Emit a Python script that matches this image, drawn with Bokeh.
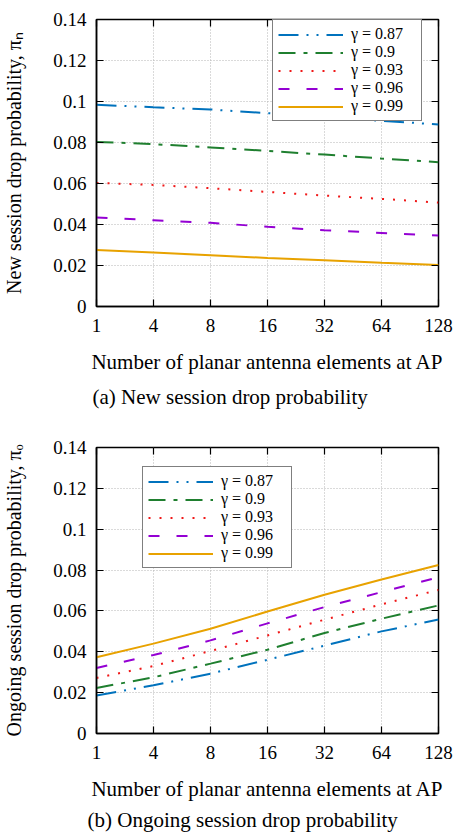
from bokeh.plotting import figure
from bokeh.models import (FixedTicker, LinearAxis, Legend, LegendItem, Title,
                          CustomJSTickFormatter, Range1d, CustomLabelingPolicy)
from bokeh.layouts import column
from bokeh.embed import file_html
from bokeh.resources import INLINE

# ---------------- data ----------------
x_labels = ["1", "4", "8", "16", "32", "64", "128"]
gamma_labels = ["γ = 0.87", "γ = 0.9", "γ = 0.93", "γ = 0.96", "γ = 0.99"]
y_tick_values = [0, 0.02, 0.04, 0.06, 0.08, 0.10, 0.12, 0.14]

new_087 = [0.0984, 0.0972, 0.0961, 0.0943, 0.0925, 0.0906, 0.0888]
new_090 = [0.0803, 0.0792, 0.0776, 0.0759, 0.0741, 0.0722, 0.0704]
new_093 = [0.0603, 0.0593, 0.0577, 0.0559, 0.0541, 0.0525, 0.0507]
new_096 = [0.0434, 0.0421, 0.0408, 0.0389, 0.0372, 0.0359, 0.0346]
new_099 = [0.0276, 0.0263, 0.0250, 0.0237, 0.0226, 0.0213, 0.0202]

ong_087 = [0.0186, 0.0236, 0.0293, 0.0361, 0.0430, 0.0500, 0.0558]
ong_090 = [0.0223, 0.0275, 0.0342, 0.0410, 0.0492, 0.0562, 0.0627]
ong_093 = [0.0272, 0.0330, 0.0404, 0.0480, 0.0557, 0.0632, 0.0703]
ong_096 = [0.0321, 0.0384, 0.0456, 0.0539, 0.0619, 0.0692, 0.0765]
ong_099 = [0.0373, 0.0440, 0.0513, 0.0597, 0.0679, 0.0754, 0.0825]

# ---------------- styles ----------------
FONT = "Liberation Serif"
colors = ["#0072bd", "#1f7f2f", "#f01818", "#9400d3", "#e8a200"]
dashes = ["20 8 2 8 2 8", "17 8 4 8", "2 9", "11 17", "solid"]
x_idx = list(range(len(x_labels)))


def mirror_axis(ticker):
    return LinearAxis(ticker=ticker, major_label_text_font_size="0px",
                      major_label_policy=CustomLabelingPolicy(code="return [];"),
                      major_label_standoff=0, major_tick_in=7, major_tick_out=0,
                      minor_tick_in=0, minor_tick_out=0, axis_line_color=None,
                      major_tick_line_width=1.2)


def make_plot(series, ylabel, caption, height, top_border, bottom_border,
              legend_loc, cap_standoff, cap_offset):
    p = figure(width=455, height=height, output_backend="svg",
               toolbar_location=None,
               x_range=Range1d(0, len(x_labels) - 1),
               y_range=Range1d(y_tick_values[0], y_tick_values[-1]),
               min_border_left=96, min_border_right=17,
               min_border_top=top_border, min_border_bottom=bottom_border)
    p.outline_line_color = "black"
    p.outline_line_width = 1.5
    p.background_fill_color = "white"
    p.border_fill_color = "white"

    xt = FixedTicker(ticks=x_idx)
    yt = FixedTicker(ticks=y_tick_values)
    fmt = CustomJSTickFormatter(code="return (Math.round(tick*100)/100).toString();")

    xa = p.below[0]
    xa.ticker = xt
    xa.major_label_overrides = {i: lab for i, lab in enumerate(x_labels)}
    xa.axis_label = "Number of planar antenna elements at AP"
    ya = p.left[0]
    ya.ticker = yt
    ya.formatter = fmt
    ya.axis_label = ylabel

    for ax in (xa, ya):
        ax.major_tick_in = 7
        ax.major_tick_out = 0
        ax.minor_tick_in = 0
        ax.minor_tick_out = 0
        ax.axis_line_color = "black"
        ax.axis_line_width = 1.5
        ax.major_tick_line_width = 1.2
        ax.major_label_text_font = FONT
        ax.major_label_text_font_size = "19px"
        ax.major_label_text_color = "black"
        ax.axis_label_text_font = FONT
        ax.axis_label_text_font_style = "normal"
        ax.axis_label_text_color = "black"
    xa.axis_label_text_font_size = "21px"
    ya.axis_label_text_font_size = "20px"
    xa.major_label_standoff = 12
    xa.axis_label_standoff = 15
    ya.major_label_standoff = 10
    ya.axis_label_standoff = 25

    p.add_layout(mirror_axis(xt), "above")
    p.add_layout(mirror_axis(yt), "right")

    for g in (p.xgrid[0], p.ygrid[0]):
        g.grid_line_color = "#b5b5b5"
        g.grid_line_dash = "1 2"
        g.grid_line_width = 1
    p.xgrid[0].ticker = xt
    p.ygrid[0].ticker = yt

    items = []
    for vals, c, d, lab in zip(series, colors, dashes, gamma_labels):
        r = p.line(x_idx, vals, line_color=c, line_width=2, line_dash=d)
        items.append(LegendItem(label=lab, renderers=[r]))

    leg = Legend(items=items, location=legend_loc)
    leg.label_text_font = FONT
    leg.label_text_font_size = "16px"
    leg.label_text_color = "black"
    leg.glyph_width = 65
    leg.glyph_height = 15
    leg.label_height = 15
    leg.label_width = 65
    leg.spacing = 0
    leg.padding = 5
    leg.margin = 0
    leg.label_standoff = 8
    leg.border_line_color = "black"
    leg.border_line_width = 1.5
    leg.background_fill_color = "white"
    leg.background_fill_alpha = 1.0
    p.add_layout(leg)

    t = Title(text=caption, align="left", offset=cap_offset, standoff=cap_standoff,
              text_font=FONT, text_font_size="21px", text_font_style="normal",
              text_color="black")
    p.add_layout(t, "below")
    return p


p1 = make_plot([new_087, new_090, new_093, new_096, new_099],
               "New session drop probability, πₙ",
               "(a)  New session drop probability",
               420, 19, 114, (176, 185), 13, -4)
p2 = make_plot([ong_087, ong_090, ong_093, ong_096, ong_099],
               "Ongoing session drop probability, πₒ",
               "(b)  Ongoing session drop probability",
               417, 27, 104, (46, 165), 5, -9)

layout = column(p1, p2, spacing=0)
open("out.html", "w").write(file_html(layout, INLINE))
